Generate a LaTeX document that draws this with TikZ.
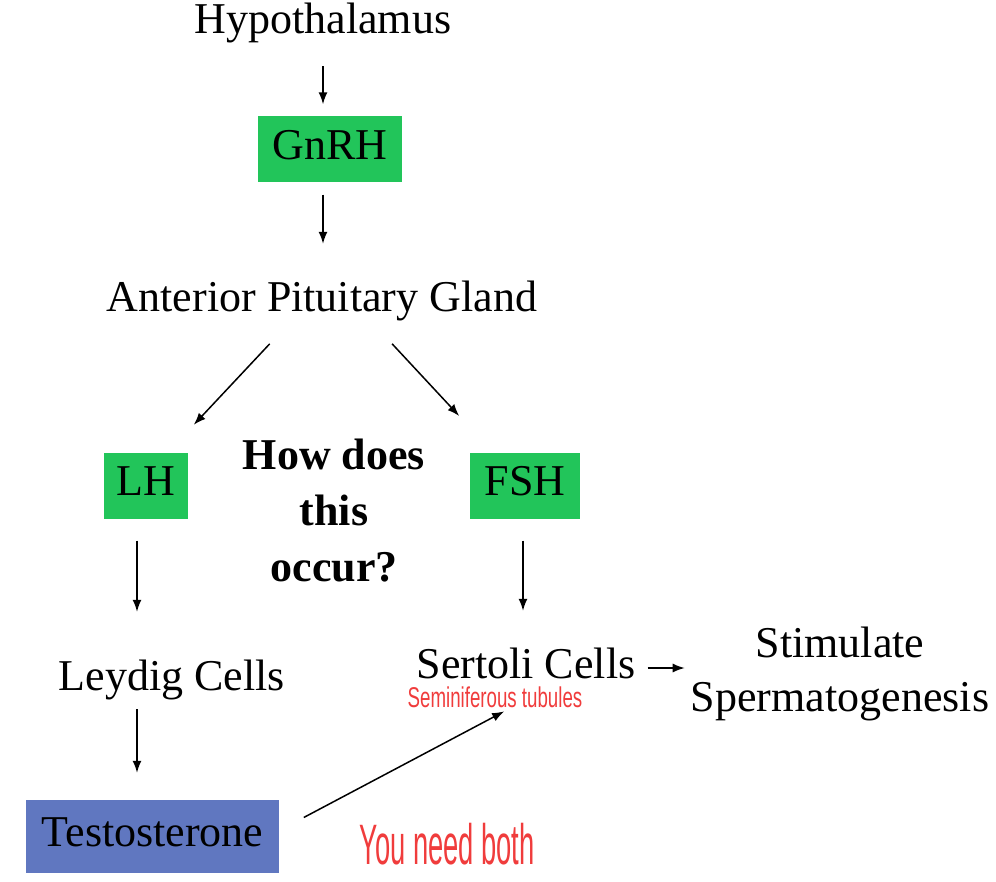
\documentclass[tikz,border=0pt]{standalone}
\usepackage{fontspec}
\setmainfont{Liberation Serif}
\newfontfamily\handfont{Liberation Sans}
\usepackage{xcolor}
\usetikzlibrary{arrows.meta,positioning}

\definecolor{hormgreen}{RGB}{34,197,90}
\definecolor{testoblue}{RGB}{96,119,192}
\definecolor{penred}{RGB}{240,60,60}

\begin{document}
\begin{tikzpicture}[x=1pt,y=-1pt,>={Latex[length=12pt,width=9pt]},
    lbl/.style={font=\fontsize{44}{54}\selectfont, inner sep=0pt, text height=30pt, text depth=10pt},
    hormbox/.style={lbl, fill=hormgreen, minimum height=66pt},
    link/.style={->, line width=1.5pt},
    note/.style={text=penred, inner sep=0pt, font=\handfont}]
    \useasboundingbox (0,0) rectangle (996,882);

    % top of the chain
    \node[lbl] (hyp) at (323,24) {Hypothalamus};
    \node[hormbox, minimum width=144pt] (gnrh) at (330,149.5) {GnRH};
    \node[lbl] (apg) at (322,302) {Anterior Pituitary Gland};

    % the two hormones
    \node[hormbox, minimum width=84pt] (lh) at (146,485.5) {LH};
    \node[hormbox, minimum width=110pt] (fsh) at (525,485.5) {FSH};
    \node[lbl, align=center, font=\fontsize{44}{56}\selectfont\bfseries] (how) at (334,571)
        {How does\\this\\occur?};

    % target cells
    \node[lbl] (leydig) at (172,680) {Leydig Cells};
    \node[lbl] (sertoli) at (526,668) {Sertoli Cells};
    \node[lbl, align=center] (stim) at (840,701) {Stimulate\\Spermatogenesis};
    \node[lbl, fill=testoblue, minimum width=253pt, minimum height=73pt] (testo) at (152.5,836.5) {Testosterone};

    % handwritten notes
    \node[note] (semi) at (495,697) {\scalebox{0.85}[1.3]{\fontsize{22}{22}\selectfont Seminiferous tubules}};
    \node[note] (both) at (447,844) {\scalebox{0.72}[1.5]{\fontsize{38}{38}\selectfont You need both}};

    % arrows
    \draw[link, shorten <=22pt, shorten >=12pt] (hyp.south -| gnrh.north) ++(-7,0) -- ([xshift=-7pt]gnrh.north);
    \draw[link, shorten <=12pt, shorten >=38pt] ([xshift=-7pt]gnrh.south) -- ([xshift=-7pt]gnrh.south |- apg.north);
    \draw[link, shorten <=29.7pt, shorten >=37.8pt] ([xshift=-32pt]apg.south) -- ([xshift=22pt]lh.north);
    \draw[link, shorten <=29.5pt, shorten >=49.6pt] ([xshift=50pt]apg.south) -- ([xshift=-32pt]fsh.north);
    \draw[link, shorten <=22pt, shorten >=48pt] ([xshift=-9pt]lh.south) -- ([xshift=-35pt]leydig.north);
    \draw[link, shorten <=22pt, shorten >=37pt] ([xshift=-2pt]fsh.south) -- ([xshift=-3pt]sertoli.north);
    \draw[link, shorten <=9pt, shorten >=27pt] ([xshift=-35pt]leydig.south) -- ([xshift=-15.5pt]testo.north);
    \draw[link, shorten <=12pt, shorten >=6pt] (sertoli.east) -- (stim.west |- sertoli.east);
    \draw[link, shorten <=27.8pt, shorten >=49.6pt] ([yshift=6pt]testo.east) -- ([xshift=22pt]sertoli.south);
\end{tikzpicture}
\end{document}
